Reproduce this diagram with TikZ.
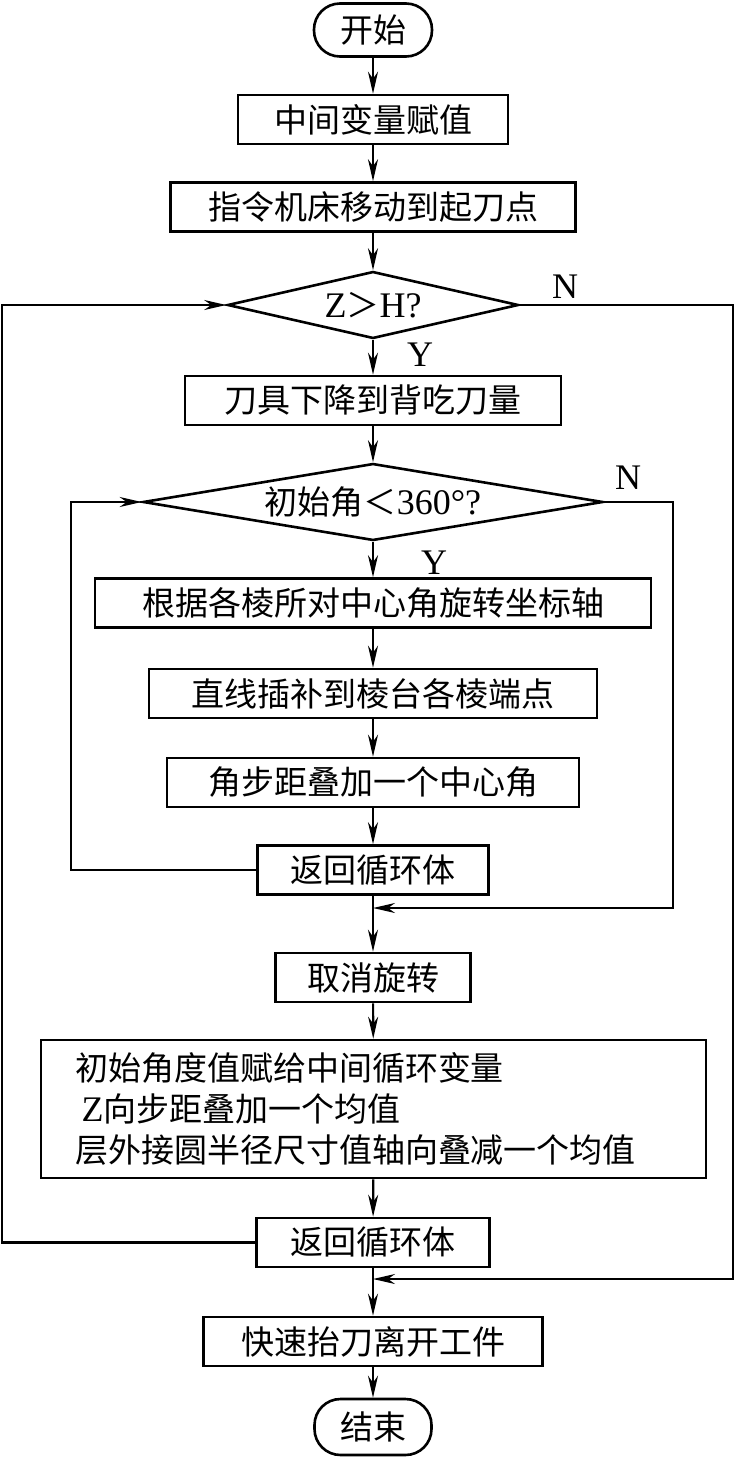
\documentclass[tikz,border=0pt]{standalone}
\usepackage{fontspec}
\setmainfont{Liberation Serif}
\newfontfamily\cjk{Noto Sans CJK SC}
\usetikzlibrary{arrows.meta}
\usetikzlibrary{shapes.geometric}

\newcommand{\latin}[1]{{\rmfamily\fontsize{36}{41}\selectfont #1}}

\tikzset{
  flow/.style={line width=2.2pt, -{Stealth[length=22pt, width=10pt, inset=7pt]}},
  stepbox/.style={draw, line width=2.6pt, minimum height=49pt, inner sep=0pt,
    font=\fontsize{33}{41}\selectfont\cjk},
  term/.style={stepbox, rounded corners=26pt},
  test/.style={draw, diamond, line width=2.6pt, inner sep=0pt,
    font=\fontsize{33}{41}\selectfont\cjk},
  yn/.style={font=\fontsize{36}{40}\selectfont}
}

\begin{document}
\begin{tikzpicture}[x=1pt, y=-1pt]
    \useasboundingbox (0,0) rectangle (735,1457);

    % Define nodes
    \node[term, minimum width=118pt, minimum height=53pt] (start) at (373,30) {开始};
    \node[stepbox, minimum width=270pt] (assign) at (373,119.5) {中间变量赋值};
    \node[stepbox, minimum width=405pt] (moveto) at (373,207) {指令机床移动到起刀点};
    \node[test, aspect=4.3, minimum width=291pt, minimum height=67pt] (zcheck) at (373,305)
        {\latin{Z}＞\latin{H?}};
    \node[stepbox, minimum width=376pt] (descend) at (373,400.5) {刀具下降到背吃刀量};
    \node[test, aspect=6, minimum width=460pt, minimum height=77pt] (acheck) at (373,502)
        {初始角＜\latin{360°?}};
    \node[stepbox, minimum width=556pt] (rotate) at (373,603) {根据各棱所对中心角旋转坐标轴};
    \node[stepbox, minimum width=448pt] (interp) at (373,693.5) {直线插补到棱台各棱端点};
    \node[stepbox, minimum width=412pt] (addang) at (373,782.5) {角步距叠加一个中心角};
    \node[stepbox, minimum width=231pt] (loopa) at (373,870) {返回循环体};
    \node[stepbox, minimum width=195pt] (unrot) at (373,977.5) {取消旋转};
    \node[stepbox, text width=597pt, inner xsep=34pt, minimum height=138pt, align=left] (update)
        at (373.5,1109) {初始角度值赋给中间循环变量\\
        \hspace{0.2em}\latin{Z}向步距叠加一个均值\\
        层外接圆半径尺寸值轴向叠减一个均值};
    \node[stepbox, minimum width=233pt] (loopz) at (373,1242.5) {返回循环体};
    \node[stepbox, minimum width=339pt] (lift) at (373,1341.5) {快速抬刀离开工件};
    \node[term, minimum width=117pt, minimum height=56pt] (stop) at (373,1427) {结束};

    % Loop corners and merge points
    \coordinate (lz) at (2,305);
    \coordinate (rz) at (733,305);
    \coordinate (mz) at (373,1279);
    \coordinate (la) at (71,502);
    \coordinate (ra) at (673,502);
    \coordinate (ma) at (373,908);

    % Main flow
    \draw[flow] (start) -- (assign);
    \draw[flow] (assign) -- (moveto);
    \draw[flow] (moveto) -- (zcheck);
    \draw[flow] (zcheck) -- (descend);
    \draw[flow] (descend) -- (acheck);
    \draw[flow] (acheck) -- (rotate);
    \draw[flow] (rotate) -- (interp);
    \draw[flow] (interp) -- (addang);
    \draw[flow] (addang) -- (loopa);
    \draw[flow] (loopa) -- (unrot);
    \draw[flow] (unrot) -- (update);
    \draw[flow] (update) -- (loopz);
    \draw[flow] (loopz) -- (lift);
    \draw[flow] (lift) -- (stop);

    % Inner loop
    \draw[flow] (loopa.west) -| (la) -- (acheck.west);
    \draw[flow] (acheck.east) -- (ra) |- (ma);

    % Outer loop
    \draw[flow] (loopz.west) -| (lz) -- (zcheck.west);
    \draw[flow] (zcheck.east) -- (rz) |- (mz);

    % Branch labels
    \node[yn] (zn) at (565,287) {N};
    \node[yn] (zy) at (420,355) {Y};
    \node[yn] (an) at (628,478) {N};
    \node[yn] (ay) at (434,563) {Y};
\end{tikzpicture}
\end{document}
